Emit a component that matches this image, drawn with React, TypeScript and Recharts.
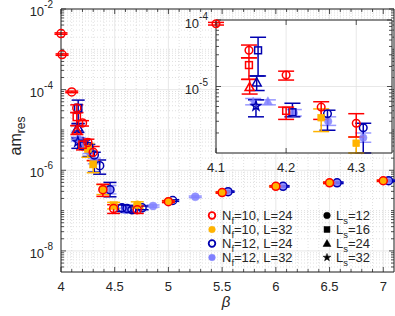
import React from 'react';
import { ScatterChart, Scatter, XAxis, YAxis, ErrorBar, CartesianGrid, ReferenceLine } from 'recharts';

// ---------- data: [beta, am_res, lower, upper] ----------
type Pt = [number, number, number, number];

// N_f=10, L=24 (red, open)
const nf10L24_Ls12: Pt[] = [
  [4.0, 2.46e-3, 2.36e-3, 2.56e-3],
  [4.01, 7.4e-4, 7.1e-4, 7.7e-4],
  [4.1, 8.8e-5, 8.4e-5, 9.2e-5],
  [4.147, 3.5e-5, 2.7e-5, 4.2e-5],
  [4.2, 1.49e-5, 1.25e-5, 1.7e-5],
  [4.25, 4.9e-6, 3.2e-6, 5.9e-6],
  [4.3, 2.8e-6, 1.74e-6, 3.9e-6],
  [4.39, 3.3e-7, 2.25e-7, 4.5e-7],
  [4.49, 1.12e-7, 8.5e-8, 1.4e-7],
  [4.71, 1.05e-7, 8.5e-8, 1.3e-7],
  [5.0, 1.66e-7, 1.58e-7, 1.74e-7],
  [5.5, 2.8e-7, 2.7e-7, 2.9e-7],
  [6.0, 4.0e-7, 3.85e-7, 4.15e-7],
  [6.5, 4.9e-7, 4.7e-7, 5.1e-7],
  [7.0, 5.5e-7, 5.3e-7, 5.7e-7],
];
const nf10L24_Ls16: Pt[] = [
  [4.147, 2.1e-5, 1.28e-5, 2.7e-5],
  [4.2, 4.3e-6, 3.2e-6, 4.9e-6],
];
const nf10L24_Ls24: Pt[] = [[4.148, 9.8e-6, 7.7e-6, 1.28e-5]];

// N_f=10, L=32 (orange, filled)
const nf10L32_Ls12: Pt[] = [
  [4.39, 3.4e-7, 2.5e-7, 4.4e-7],
  [4.71, 1.4e-7, 1.15e-7, 1.65e-7],
  [5.0, 1.7e-7, 1.62e-7, 1.78e-7],
  [5.5, 2.85e-7, 2.75e-7, 2.95e-7],
  [6.0, 4.0e-7, 3.85e-7, 4.15e-7],
  [6.5, 4.9e-7, 4.7e-7, 5.1e-7],
  [7.0, 5.5e-7, 5.3e-7, 5.7e-7],
];
const nf10L32_Ls16: Pt[] = [
  [4.25, 3.4e-6, 2.1e-6, 4.6e-6],
  [4.3, 1.4e-6, 8.7e-7, 1.74e-6],
  [4.49, 1.35e-7, 1.1e-7, 1.6e-7],
];

// N_f=12, L=24 (dark blue, open)
const nf12L24_Ls12: Pt[] = [
  [4.259, 3.9e-6, 2.2e-6, 4.4e-6],
  [4.31, 2.4e-6, 9e-7, 2.8e-6],
  [4.36, 1.3e-6, 8e-7, 1.8e-6],
  [4.456, 3.3e-7, 2.2e-7, 5.0e-7],
  [4.568, 1.17e-7, 9.5e-8, 1.4e-7],
  [4.615, 1.12e-7, 9e-8, 1.35e-7],
  [4.66, 1.05e-7, 9e-8, 1.2e-7],
  [4.755, 1.17e-7, 1.05e-7, 1.3e-7],
  [5.04, 1.78e-7, 1.7e-7, 1.86e-7],
  [5.555, 2.95e-7, 2.85e-7, 3.05e-7],
  [6.067, 4.0e-7, 3.85e-7, 4.15e-7],
  [6.57, 4.9e-7, 4.7e-7, 5.1e-7],
  [7.05, 5.5e-7, 5.3e-7, 5.7e-7],
];
const nf12L24_Ls16: Pt[] = [
  [4.16, 3.5e-5, 1.44e-5, 5.5e-5],
  [4.209, 4.1e-6, 3.5e-6, 5.6e-6],
];
const nf12L24_Ls24: Pt[] = [[4.158, 1.15e-5, 8.7e-6, 1.44e-5]];
const nf12L24_Ls32: Pt[] = [[4.157, 5.1e-6, 3.5e-6, 6.3e-6]];

// N_f=12, L=32 (light blue, filled)
const nf12L32_Ls12: Pt[] = [
  [4.211, 4.0e-6, 3.6e-6, 4.5e-6],
  [4.26, 3.0e-6, 2.6e-6, 3.5e-6],
  [4.31, 1.7e-6, 1.45e-6, 2.0e-6],
  [4.456, 3.3e-7, 2.6e-7, 4.2e-7],
  [4.6, 1.05e-7, 9.5e-8, 1.15e-7],
  [4.857, 1.3e-7, 1.22e-7, 1.38e-7],
  [5.25, 2.2e-7, 2.1e-7, 2.3e-7],
  [5.555, 2.95e-7, 2.85e-7, 3.05e-7],
  [6.067, 4.0e-7, 3.85e-7, 4.15e-7],
  [6.57, 4.9e-7, 4.7e-7, 5.1e-7],
  [7.05, 5.5e-7, 5.3e-7, 5.7e-7],
];
const nf12L32_Ls24: Pt[] = [[4.174, 6.0e-6, 5.3e-6, 6.3e-6]];
const nf12L32_Ls32: Pt[] = [[4.153, 5.9e-6, 5.3e-6, 6.6e-6]];

// ---------- ticks / labels ----------
const MAIN_X_TICKS = [4, 4.5, 5, 5.5, 6, 6.5, 7];
const MAIN_Y_TICKS = [1e-8, 1e-6, 1e-4, 1e-2];
const INSET_X_TICKS = [4.1, 4.2, 4.3];
const INSET_Y_TICKS = [1e-5, 1e-4];
const SERIES_LABELS = [
  ['N', 'f', '=10, L=24'],
  ['N', 'f', '=10, L=32'],
  ['N', 'f', '=12, L=24'],
  ['N', 'f', '=12, L=32'],
];
const LS_LABELS = [
  ['L', 's', '=12'],
  ['L', 's', '=16'],
  ['L', 's', '=24'],
  ['L', 's', '=32'],
];

// ---------- style ----------
const FONT = '"Liberation Sans", Arial, Helvetica, sans-serif';
const INK = '#262626';
const RED = '#ff0000';
const ORANGE = '#ffb300';
const DBLUE = '#0000b0';
const LBLUE = '#8080ff';

type Shape = 'circle' | 'square' | 'triangle' | 'star';
interface Series { key: string; color: string; filled: boolean; shape: Shape; pts: Pt[] }

const SERIES: Series[] = [
  { key: 'lb12', color: LBLUE, filled: true, shape: 'circle', pts: nf12L32_Ls12 },
  { key: 'lb24', color: LBLUE, filled: true, shape: 'triangle', pts: nf12L32_Ls24 },
  { key: 'lb32', color: LBLUE, filled: true, shape: 'star', pts: nf12L32_Ls32 },
  { key: 'db12', color: DBLUE, filled: false, shape: 'circle', pts: nf12L24_Ls12 },
  { key: 'db16', color: DBLUE, filled: false, shape: 'square', pts: nf12L24_Ls16 },
  { key: 'db24', color: DBLUE, filled: false, shape: 'triangle', pts: nf12L24_Ls24 },
  { key: 'db32', color: DBLUE, filled: false, shape: 'star', pts: nf12L24_Ls32 },
  { key: 'or12', color: ORANGE, filled: true, shape: 'circle', pts: nf10L32_Ls12 },
  { key: 'or16', color: ORANGE, filled: true, shape: 'square', pts: nf10L32_Ls16 },
  { key: 'rd12', color: RED, filled: false, shape: 'circle', pts: nf10L24_Ls12 },
  { key: 'rd16', color: RED, filled: false, shape: 'square', pts: nf10L24_Ls16 },
  { key: 'rd24', color: RED, filled: false, shape: 'triangle', pts: nf10L24_Ls24 },
];

function Glyph({ cx, cy, shape, color, filled, r, sw = 1.5, opacity = 1 }: any) {
  const common = {
    fill: filled ? color : 'none',
    stroke: color,
    strokeWidth: filled ? 0.5 : sw,
    opacity,
  };
  if (shape === 'circle') return <circle cx={cx} cy={cy} r={r} {...common} />;
  if (shape === 'square') {
    const s = r * 0.9;
    return <rect x={cx - s} y={cy - s} width={2 * s} height={2 * s} {...common} />;
  }
  if (shape === 'triangle') {
    const h = r * 1.2;
    const pts = `${cx},${cy - h} ${cx + h},${cy + h * 0.75} ${cx - h},${cy + h * 0.75}`;
    return <polygon points={pts} {...common} />;
  }
  const pts: string[] = [];
  for (let i = 0; i < 10; i++) {
    const rr = i % 2 === 0 ? r * 1.25 : r * 0.5;
    const a = -Math.PI / 2 + (i * Math.PI) / 5;
    pts.push(`${cx + rr * Math.cos(a)},${cy + rr * Math.sin(a)}`);
  }
  return <polygon points={pts.join(' ')} {...common} />;
}

function PowTick(props: any) {
  const { x, y, payload } = props;
  const e = Math.round(Math.log10(payload.value));
  return (
    <text x={x} y={y + 7} textAnchor="end" fill={INK} fontSize={13} fontFamily={FONT}>
      10<tspan dy={-8} fontSize={10}>{`${e}`}</tspan>
    </text>
  );
}

function rowsOf(pts: Pt[], yMin: number) {
  return pts.map(([b, v, lo, hi]) => ({ b, v, err: [v - Math.max(lo, yMin), hi - v] }));
}

function minorLog(lo: number, hi: number, skip: number[]) {
  const out: number[] = [];
  for (let e = -10; e <= 0; e++) {
    for (let k = 1; k <= 9; k++) {
      const v = Number((k * Math.pow(10, e)).toPrecision(3));
      if (v > lo && v < hi && !skip.some((s) => Math.abs(s - v) / v < 1e-6)) out.push(v);
    }
  }
  return out;
}

function minorLin(lo: number, hi: number, step: number, skip: number[]) {
  const out: number[] = [];
  const n = Math.round((hi - lo) / step);
  for (let i = 1; i <= n; i++) {
    const v = Number((lo + i * step).toFixed(4));
    if (v < hi + 1e-9 && !skip.some((s) => Math.abs(s - v) < 1e-6)) out.push(v);
  }
  return out;
}

function tickMarks(prefix: string, xd: [number, number], yd: [number, number], pxPerX: number, pxPerDec: number,
  xMajor: number[], xMinor: number[], yMajor: number[], yMinor: number[]) {
  const els: React.ReactNode[] = [];
  const yt = (len: number) => Math.pow(10, len / pxPerDec);
  const add = (key: string, seg: any) =>
    els.push(<ReferenceLine key={prefix + key} segment={seg} stroke={INK} strokeWidth={0.8} ifOverflow="visible" />);
  [...xMajor.map((b) => [b, 5]), ...xMinor.map((b) => [b, 3])].forEach(([b, L], i) => {
    add('xb' + i, [{ x: b, y: yd[0] }, { x: b, y: yd[0] * yt(L) }]);
    add('xt' + i, [{ x: b, y: yd[1] }, { x: b, y: yd[1] / yt(L) }]);
  });
  [...yMajor.map((v) => [v, 5]), ...yMinor.map((v) => [v, 3])].forEach(([v, L], i) => {
    add('yl' + i, [{ x: xd[0], y: v }, { x: xd[0] + L / pxPerX, y: v }]);
    add('yr' + i, [{ x: xd[1], y: v }, { x: xd[1] - L / pxPerX, y: v }]);
  });
  return els;
}

// ---------- main geometry ----------
const MAIN_W = 395, MAIN_H = 316;
const MAIN_M = { top: 9, right: 1, bottom: 0, left: 0 };
const MAIN_YW = 61, MAIN_XH = 44;
const MAIN_XD: [number, number] = [4, 7.1];
const MAIN_YD: [number, number] = [3e-9, 1e-2];
const mainPlotW = MAIN_W - MAIN_YW - MAIN_M.right;
const mainPlotH = MAIN_H - MAIN_M.top - MAIN_XH;

const INS_W = 228, INS_H = 167;
const INS_M = { top: 8, right: 2, bottom: 0, left: 0 };
const INS_YW = 50, INS_XH = 26;
const INS_XD: [number, number] = [4.1, 4.351];
const INS_YD: [number, number] = [1e-6, 1e-4];
const insPlotW = INS_W - INS_YW - INS_M.right;
const insPlotH = INS_H - INS_M.top - INS_XH;

function renderSeries(inset: boolean) {
  const yMin = inset ? INS_YD[0] : MAIN_YD[0];
  return SERIES.map((s) => {
    const pts = inset ? s.pts.filter((p) => p[0] >= INS_XD[0] - 0.005 && p[0] <= INS_XD[1] && p[1] >= INS_YD[0]) : s.pts;
    if (!pts.length) return null;
    const ecol = s.color;
    return (
      <Scatter
        key={s.key + (inset ? 'i' : 'm')}
        data={rowsOf(pts, yMin)}
        isAnimationActive={false}
        shape={(p: any) => (
          <Glyph cx={p.cx} cy={p.cy} shape={s.shape} color={s.color} filled={s.filled}
            r={inset ? 3.8 : 4} opacity={s.color === LBLUE ? 0.85 : 1} />
        )}
      >
        <ErrorBar dataKey="err" direction="y" width={inset ? 8 : 6.5} stroke={ecol} strokeWidth={1.5}
          opacity={s.color === LBLUE ? 0.8 : 1} />
      </Scatter>
    );
  });
}

export default function App() {
  const mainXMinor = minorLin(MAIN_XD[0], 7.0, 0.1, MAIN_X_TICKS);
  const mainYMinor = minorLog(MAIN_YD[0], MAIN_YD[1], MAIN_Y_TICKS);
  const pxX = mainPlotW / (MAIN_XD[1] - MAIN_XD[0]);
  const pxDec = mainPlotH / Math.log10(MAIN_YD[1] / MAIN_YD[0]);
  const insPxX = insPlotW / (INS_XD[1] - INS_XD[0]);
  const insPxDec = insPlotH / Math.log10(INS_YD[1] / INS_YD[0]);
  const insYMinor = minorLog(INS_YD[0], INS_YD[1], INSET_Y_TICKS);

  return (
    <div style={{ position: 'absolute', left: 0, top: 0, width: MAIN_W, height: MAIN_H, background: '#fff', fontFamily: FONT }}>
      <ScatterChart width={MAIN_W} height={MAIN_H} margin={MAIN_M}>
        <CartesianGrid stroke="#e2e2e2" strokeWidth={0.8} />
        {mainXMinor.map((b) => (
          <ReferenceLine key={'gx' + b} x={b} stroke="#d2d2d2" strokeWidth={0.7} strokeDasharray="1 2" />
        ))}
        {mainYMinor.map((v) => (
          <ReferenceLine key={'gy' + v} y={v} stroke="#d2d2d2" strokeWidth={0.7} strokeDasharray="1 2" />
        ))}
        <XAxis type="number" dataKey="b" domain={MAIN_XD} ticks={MAIN_X_TICKS} height={MAIN_XH}
          tickSize={0} tickMargin={10} tickLine={false} axisLine={{ stroke: INK }}
          tick={{ fill: INK, fontSize: 13, fontFamily: FONT }} />
        <YAxis type="number" dataKey="v" scale="log" domain={MAIN_YD} ticks={MAIN_Y_TICKS} width={MAIN_YW}
          tickSize={0} tickMargin={8} tickLine={false} axisLine={{ stroke: INK }} tick={<PowTick />} />
        <ReferenceLine x={MAIN_XD[1]} stroke={INK} strokeWidth={1} />
        <ReferenceLine y={MAIN_YD[1]} stroke={INK} strokeWidth={1} />
        {tickMarks('m', MAIN_XD, MAIN_YD, pxX, pxDec, MAIN_X_TICKS, mainXMinor, MAIN_Y_TICKS, mainYMinor)}
        {renderSeries(false)}
      </ScatterChart>

      <div style={{ position: 'absolute', left: 166, top: 12 }}>
        <ScatterChart width={INS_W} height={INS_H} margin={INS_M}>
          <CartesianGrid fill="#ffffff" fillOpacity={1} stroke="#e2e2e2" strokeWidth={0.8} />
          <XAxis type="number" dataKey="b" domain={INS_XD} ticks={INSET_X_TICKS} height={INS_XH}
            tickSize={0} tickMargin={10} tickLine={false} axisLine={{ stroke: INK }}
            tick={{ fill: INK, fontSize: 13, fontFamily: FONT }} />
          <YAxis type="number" dataKey="v" scale="log" domain={INS_YD} ticks={INSET_Y_TICKS} width={INS_YW}
            tickSize={0} tickMargin={8} tickLine={false} axisLine={{ stroke: INK }} tick={<PowTick />} />
          <ReferenceLine x={INS_XD[1]} stroke={INK} strokeWidth={1} />
          <ReferenceLine y={INS_YD[1]} stroke={INK} strokeWidth={1} />
          {tickMarks('i', INS_XD, INS_YD, insPxX, insPxDec, INSET_X_TICKS, [], INSET_Y_TICKS, insYMinor)}
          {renderSeries(true)}
        </ScatterChart>
      </div>

      <svg width={MAIN_W} height={MAIN_H} style={{ position: 'absolute', left: 0, top: 0, pointerEvents: 'none' }}>
        <text transform="translate(21,136) rotate(-90)" textAnchor="middle" fill={INK} fontSize={16} fontFamily={FONT}>
          am<tspan dy={4} fontSize={12}>res</tspan>
        </text>
        <text x={226} y={307} textAnchor="middle" fill={INK} fontSize={15} fontStyle="italic" fontFamily={FONT}>β</text>
        {SERIES_LABELS.map((lab, i) => {
          const cy = 215.5 + i * 14;
          const col = [RED, ORANGE, DBLUE, LBLUE][i];
          const filled = i === 1 || i === 3;
          return (
            <g key={'lg' + i}>
              <Glyph cx={212} cy={cy} shape="circle" color={col} filled={filled} r={3.3} sw={1.8} />
              <text x={222} y={cy + 4.5} fill={INK} fontSize={13} fontFamily={FONT}>
                {lab[0]}<tspan dy={3.5} fontSize={9.5}>{lab[1]}</tspan><tspan dy={-3.5}>{lab[2]}</tspan>
              </text>
            </g>
          );
        })}
        {LS_LABELS.map((lab, i) => {
          const cy = 215.5 + i * 14;
          const shape = (['circle', 'square', 'triangle', 'star'] as Shape[])[i];
          return (
            <g key={'ls' + i}>
              <Glyph cx={327} cy={cy} shape={shape} color="#000" filled r={3.3} />
              <text x={336} y={cy + 4.5} fill={INK} fontSize={13} fontFamily={FONT}>
                {lab[0]}<tspan dy={3.5} fontSize={9.5}>{lab[1]}</tspan><tspan dy={-3.5}>{lab[2]}</tspan>
              </text>
            </g>
          );
        })}
      </svg>
    </div>
  );
}
